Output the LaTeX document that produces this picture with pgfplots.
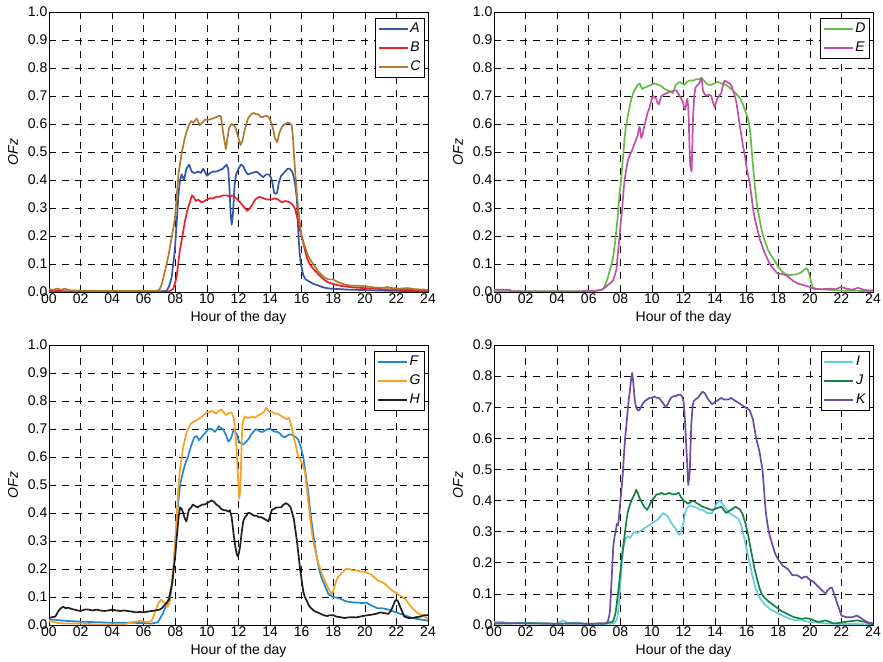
\documentclass[border=0pt]{standalone}
\usepackage{fontspec}
\setmainfont{Liberation Sans}
\usepackage{pgfplots}
\pgfplotsset{compat=1.18}

\definecolor{cA}{RGB}{50,85,168}
\definecolor{cB}{RGB}{236,32,40}
\definecolor{cC}{RGB}{176,122,44}
\definecolor{cD}{RGB}{100,190,70}
\definecolor{cE}{RGB}{192,80,168}
\definecolor{cF}{RGB}{36,135,205}
\definecolor{cG}{RGB}{248,160,32}
\definecolor{cH}{RGB}{30,30,30}
\definecolor{cI}{RGB}{100,205,222}
\definecolor{cJ}{RGB}{20,130,70}
\definecolor{cK}{RGB}{106,76,166}

\pgfplotsset{
  ofz/.style={
    scale only axis, width=379pt, height=280pt,
    xmin=0, xmax=24, ymin=0,
    xtick={0,2,...,24},
    xticklabels={00,02,04,06,08,10,12,14,16,18,20,22,24},
    yticklabel style={inner sep=1.5pt, /pgf/number format/.cd, fixed, fixed zerofill, precision=1, assume math mode=true},
    xticklabel style={inner sep=2pt},
    tick label style={font=\fontsize{14}{16}\selectfont},
    label style={font=\fontsize{14}{16}\selectfont},
    grid=major,
    major grid style={black, line width=0.6pt, dash pattern=on 7pt off 6pt},
    axis line style={black, line width=0.8pt},
    tick style={black, line width=0.6pt},
    tick align=inside, major tick length=5pt,
    xlabel={Hour of the day},
    ylabel={\textit{OFz}},
    xlabel style={at={(axis description cs:0.5,-0.093)}, anchor=center},
    ylabel style={at={(axis description cs:-0.095,0.5)}, anchor=center},
    every axis plot/.append style={line width=1.7pt, line join=round},
    legend cell align=left,
    legend image code/.code={\draw[##1] (0pt,0pt) -- (29pt,0pt);},
    legend style={at={(0.992,0.979)}, anchor=north east, draw=black, line width=1pt,
      font=\itshape\fontsize{14}{16}\selectfont, inner sep=2pt,
      nodes={inner sep=2pt, text height=10pt, text depth=3pt}, row sep=2pt},
  }
}

\begin{document}
\begin{tikzpicture}
% ---------------- panel 1 ----------------
\begin{axis}[ofz, at={(49pt,369pt)}, anchor=south west, ymax=1,
  ytick={0,0.1,0.2,0.3,0.4,0.5,0.6,0.7,0.8,0.9,1.0}]
\addplot[cA] coordinates {(0,0.003) (1,0.002) (3,0.002) (5,0.002) (7,0.002) (7.45,0.004) (7.6,0.02) (7.76,0.05) (7.97,0.15) (8.1,0.26) (8.2,0.35) (8.3,0.40) (8.4,0.42) (8.55,0.40) (8.7,0.44) (8.88,0.455) (9.03,0.43) (9.2,0.425) (9.45,0.43) (9.6,0.425) (9.77,0.44) (10.0,0.415) (10.2,0.425) (10.4,0.43) (10.6,0.43) (10.8,0.435) (11.0,0.44) (11.25,0.455) (11.35,0.44) (11.42,0.38) (11.5,0.28) (11.57,0.24) (11.65,0.28) (11.75,0.38) (11.85,0.42) (12.0,0.44) (12.15,0.455) (12.3,0.45) (12.45,0.43) (12.6,0.42) (12.85,0.425) (13.15,0.43) (13.35,0.42) (13.57,0.41) (13.75,0.42) (13.9,0.42) (14.05,0.41) (14.15,0.39) (14.25,0.355) (14.35,0.35) (14.45,0.355) (14.55,0.39) (14.7,0.415) (14.95,0.43) (15.1,0.44) (15.25,0.44) (15.4,0.43) (15.5,0.41) (15.6,0.38) (15.7,0.33) (15.75,0.26) (15.8,0.20) (15.87,0.14) (15.95,0.10) (16.1,0.06) (16.25,0.045) (16.4,0.04) (16.7,0.03) (16.95,0.025) (17.4,0.016) (17.8,0.012) (18.5,0.01) (19.1,0.008) (20,0.007) (21,0.005) (22,0.004) (24,0.003)};
\addlegendentry{A}
\addplot[cB] coordinates {(0,0.005) (0.6,0.004) (1.2,0.001) (3,0.001) (5,0.001) (7,0.001) (7.6,0.002) (7.86,0.01) (7.97,0.03) (8.07,0.05) (8.18,0.1) (8.29,0.15) (8.45,0.2) (8.6,0.25) (8.75,0.29) (8.92,0.32) (9.05,0.345) (9.15,0.34) (9.3,0.325) (9.45,0.33) (9.66,0.32) (9.85,0.325) (10.0,0.33) (10.2,0.335) (10.4,0.335) (10.6,0.34) (10.8,0.34) (11.0,0.345) (11.25,0.345) (11.45,0.34) (11.65,0.345) (11.85,0.335) (12.1,0.32) (12.25,0.31) (12.4,0.30) (12.55,0.29) (12.65,0.295) (12.85,0.31) (13.0,0.325) (13.15,0.335) (13.35,0.34) (13.57,0.335) (13.8,0.33) (14.1,0.33) (14.3,0.335) (14.5,0.33) (14.75,0.32) (14.95,0.325) (15.25,0.32) (15.45,0.31) (15.6,0.295) (15.7,0.27) (15.8,0.25) (15.9,0.22) (16.0,0.20) (16.1,0.175) (16.2,0.15) (16.35,0.12) (16.5,0.10) (16.7,0.085) (16.95,0.07) (17.2,0.055) (17.4,0.045) (17.65,0.035) (17.9,0.03) (18.2,0.026) (18.45,0.022) (19.3,0.016) (20.2,0.013) (21.2,0.01) (22.3,0.008) (24,0.005)};
\addlegendentry{B}
\addplot[cC] coordinates {(0,0.01) (0.3,0.008) (0.5,0.012) (0.8,0.008) (1.0,0.012) (1.3,0.006) (2,0.005) (3,0.004) (4,0.004) (5,0.004) (6,0.004) (6.8,0.004) (7.0,0.008) (7.15,0.03) (7.3,0.065) (7.45,0.10) (7.6,0.14) (7.75,0.19) (7.85,0.22) (7.97,0.26) (8.1,0.35) (8.2,0.42) (8.3,0.46) (8.45,0.51) (8.6,0.55) (8.75,0.58) (8.9,0.60) (9.0,0.61) (9.15,0.605) (9.35,0.62) (9.55,0.595) (9.7,0.605) (9.87,0.615) (10.1,0.615) (10.4,0.62) (10.6,0.625) (10.8,0.63) (10.9,0.625) (11.0,0.58) (11.08,0.55) (11.2,0.51) (11.3,0.55) (11.4,0.585) (11.55,0.60) (11.7,0.595) (11.8,0.59) (11.9,0.57) (12.0,0.55) (12.13,0.525) (12.25,0.54) (12.4,0.58) (12.5,0.60) (12.6,0.62) (12.8,0.635) (12.95,0.64) (13.1,0.635) (13.25,0.635) (13.4,0.625) (13.57,0.625) (13.75,0.63) (13.9,0.625) (14.0,0.615) (14.1,0.60) (14.2,0.58) (14.3,0.55) (14.45,0.535) (14.6,0.57) (14.75,0.59) (14.95,0.60) (15.15,0.605) (15.3,0.60) (15.37,0.595) (15.45,0.55) (15.5,0.50) (15.6,0.42) (15.7,0.35) (15.8,0.29) (15.9,0.24) (16.0,0.20) (16.1,0.18) (16.25,0.155) (16.4,0.13) (16.6,0.11) (16.85,0.09) (17.1,0.07) (17.3,0.06) (17.5,0.05) (17.7,0.045) (18.0,0.045) (18.15,0.04) (18.3,0.035) (18.55,0.03) (18.85,0.025) (19.3,0.022) (19.7,0.022) (20.1,0.02) (20.6,0.016) (21.2,0.015) (21.4,0.018) (21.7,0.014) (22.2,0.012) (22.7,0.014) (23.2,0.01) (24,0.008)};
\addlegendentry{C}
\end{axis}
% ---------------- panel 2 ----------------
\begin{axis}[ofz, at={(494pt,369pt)}, anchor=south west, ymax=1,
  ytick={0,0.1,0.2,0.3,0.4,0.5,0.6,0.7,0.8,0.9,1.0}]
\addplot[cD] coordinates {(0,0.003) (2,0.003) (4,0.003) (6,0.003) (6.48,0.004) (6.7,0.006) (6.9,0.01) (7.05,0.025) (7.2,0.05) (7.35,0.08) (7.53,0.12) (7.65,0.17) (7.75,0.22) (7.85,0.28) (7.95,0.35) (8.05,0.40) (8.12,0.45) (8.2,0.50) (8.27,0.55) (8.35,0.59) (8.48,0.63) (8.6,0.665) (8.7,0.69) (8.85,0.715) (9.0,0.73) (9.1,0.74) (9.22,0.745) (9.3,0.735) (9.39,0.725) (9.55,0.73) (9.75,0.735) (9.95,0.74) (10.17,0.745) (10.4,0.74) (10.6,0.735) (10.8,0.725) (11.02,0.72) (11.2,0.715) (11.33,0.71) (11.42,0.725) (11.5,0.74) (11.75,0.75) (11.9,0.745) (12.07,0.74) (12.2,0.75) (12.39,0.755) (12.6,0.755) (12.8,0.76) (13.0,0.76) (13.13,0.765) (13.3,0.755) (13.44,0.745) (13.6,0.74) (13.76,0.74) (13.95,0.745) (14.18,0.75) (14.4,0.745) (14.7,0.74) (14.9,0.73) (15.13,0.72) (15.3,0.71) (15.45,0.70) (15.6,0.69) (15.77,0.67) (15.95,0.64) (16.08,0.62) (16.15,0.60) (16.23,0.57) (16.3,0.52) (16.4,0.45) (16.5,0.39) (16.57,0.35) (16.68,0.30) (16.78,0.27) (16.9,0.235) (17.04,0.20) (17.2,0.175) (17.35,0.15) (17.5,0.135) (17.67,0.12) (17.85,0.105) (17.99,0.09) (18.15,0.08) (18.3,0.07) (18.5,0.063) (18.72,0.06) (19.0,0.062) (19.25,0.065) (19.45,0.07) (19.56,0.075) (19.7,0.082) (19.8,0.085) (19.9,0.075) (19.98,0.06) (20.08,0.035) (20.2,0.015) (20.4,0.012) (20.6,0.01) (21.2,0.008) (21.9,0.005) (23,0.004) (24,0.003)};
\addlegendentry{D}
\addplot[cE] coordinates {(0,0.008) (0.5,0.008) (1.0,0.008) (1.1,0.003) (2,0.002) (4,0.002) (5.5,0.002) (5.85,0.005) (6.2,0.004) (6.48,0.005) (6.7,0.007) (6.9,0.01) (7.05,0.017) (7.2,0.025) (7.35,0.03) (7.53,0.04) (7.65,0.06) (7.75,0.08) (7.85,0.14) (7.95,0.20) (8.03,0.25) (8.12,0.30) (8.2,0.36) (8.27,0.40) (8.38,0.44) (8.48,0.47) (8.6,0.49) (8.7,0.50) (8.8,0.515) (8.9,0.53) (9.0,0.545) (9.1,0.56) (9.15,0.575) (9.22,0.59) (9.28,0.57) (9.32,0.55) (9.4,0.56) (9.47,0.58) (9.55,0.60) (9.64,0.62) (9.72,0.64) (9.8,0.65) (9.88,0.665) (9.95,0.68) (10.02,0.695) (10.1,0.70) (10.18,0.695) (10.27,0.69) (10.35,0.675) (10.44,0.67) (10.52,0.685) (10.6,0.70) (10.75,0.705) (10.92,0.71) (11.1,0.715) (11.23,0.715) (11.4,0.72) (11.54,0.72) (11.65,0.71) (11.75,0.70) (11.85,0.69) (11.96,0.68) (12.03,0.66) (12.1,0.65) (12.17,0.67) (12.24,0.69) (12.3,0.66) (12.34,0.60) (12.38,0.52) (12.43,0.45) (12.51,0.43) (12.55,0.50) (12.6,0.62) (12.68,0.70) (12.76,0.73) (12.9,0.74) (13.0,0.745) (13.13,0.765) (13.18,0.75) (13.23,0.72) (13.3,0.71) (13.44,0.70) (13.6,0.705) (13.76,0.70) (13.85,0.68) (13.97,0.66) (14.05,0.675) (14.14,0.69) (14.25,0.70) (14.39,0.71) (14.5,0.74) (14.6,0.755) (14.75,0.75) (14.92,0.745) (15.05,0.735) (15.13,0.72) (15.25,0.70) (15.34,0.68) (15.45,0.64) (15.55,0.60) (15.66,0.56) (15.77,0.52) (15.88,0.49) (15.98,0.45) (16.08,0.42) (16.19,0.39) (16.3,0.345) (16.4,0.30) (16.5,0.265) (16.61,0.24) (16.72,0.215) (16.82,0.19) (16.98,0.165) (17.14,0.14) (17.3,0.12) (17.46,0.10) (17.67,0.085) (17.88,0.07) (18.05,0.065) (18.2,0.065) (18.35,0.062) (18.5,0.06) (18.72,0.05) (18.93,0.04) (19.1,0.035) (19.25,0.03) (19.5,0.026) (19.77,0.022) (20.0,0.018) (20.2,0.012) (20.5,0.01) (20.8,0.01) (21.2,0.012) (21.65,0.01) (21.85,0.015) (22.0,0.018) (22.15,0.015) (22.3,0.012) (22.7,0.008) (22.9,0.012) (23.05,0.015) (23.2,0.012) (23.4,0.008) (23.7,0.006) (24,0.005)};
\addlegendentry{E}
\end{axis}
% ---------------- panel 3 ----------------
\begin{axis}[ofz, at={(49pt,36pt)}, anchor=south west, ymax=1,
  ytick={0,0.1,0.2,0.3,0.4,0.5,0.6,0.7,0.8,0.9,1.0}]
\addplot[cF] coordinates {(0,0.02) (0.5,0.018) (1.0,0.015) (2,0.012) (3,0.01) (4,0.008) (5,0.008) (6,0.007) (6.5,0.005) (6.9,0.01) (7.05,0.025) (7.2,0.04) (7.35,0.06) (7.5,0.08) (7.65,0.11) (7.8,0.15) (7.9,0.22) (8.0,0.30) (8.07,0.36) (8.15,0.42) (8.3,0.50) (8.5,0.55) (8.65,0.58) (8.8,0.60) (9.0,0.64) (9.2,0.67) (9.35,0.675) (9.5,0.66) (9.65,0.67) (9.8,0.68) (9.95,0.69) (10.1,0.70) (10.3,0.70) (10.5,0.69) (10.65,0.70) (10.75,0.71) (10.85,0.705) (11.0,0.70) (11.1,0.69) (11.2,0.68) (11.35,0.655) (11.45,0.66) (11.55,0.67) (11.7,0.70) (11.8,0.69) (11.9,0.68) (12.0,0.66) (12.1,0.65) (12.3,0.645) (12.5,0.655) (12.65,0.665) (12.8,0.68) (12.95,0.69) (13.1,0.70) (13.25,0.695) (13.4,0.69) (13.55,0.69) (13.7,0.695) (13.85,0.70) (14.0,0.70) (14.15,0.695) (14.3,0.69) (14.45,0.69) (14.6,0.685) (14.75,0.675) (14.9,0.67) (15.05,0.675) (15.2,0.68) (15.35,0.68) (15.5,0.675) (15.65,0.67) (15.8,0.66) (15.95,0.635) (16.1,0.60) (16.25,0.54) (16.4,0.48) (16.5,0.43) (16.6,0.38) (16.72,0.33) (16.85,0.28) (16.97,0.24) (17.1,0.20) (17.25,0.17) (17.4,0.15) (17.55,0.13) (17.7,0.11) (17.85,0.105) (18.0,0.10) (18.2,0.098) (18.4,0.095) (18.6,0.09) (18.8,0.085) (19.05,0.082) (19.3,0.08) (19.55,0.08) (19.8,0.078) (20.1,0.08) (20.25,0.075) (20.4,0.07) (20.6,0.065) (20.8,0.06) (21.1,0.06) (21.5,0.055) (21.75,0.05) (22.0,0.045) (22.25,0.04) (22.5,0.035) (22.75,0.03) (23.0,0.025) (23.25,0.022) (23.5,0.02) (23.75,0.018) (24,0.015)};
\addlegendentry{F}
\addplot[cG] coordinates {(0,0.015) (0.5,0.008) (1,0.005) (2,0.005) (3,0.002) (4,0.002) (4.8,0.002) (5.2,0.01) (5.8,0.015) (6.2,0.01) (6.5,0.015) (6.65,0.035) (6.8,0.06) (6.95,0.08) (7.1,0.09) (7.2,0.085) (7.3,0.08) (7.4,0.07) (7.5,0.065) (7.58,0.075) (7.65,0.085) (7.72,0.11) (7.8,0.15) (7.9,0.22) (8.0,0.30) (8.1,0.40) (8.2,0.50) (8.3,0.56) (8.4,0.60) (8.5,0.635) (8.6,0.66) (8.7,0.685) (8.8,0.70) (8.9,0.71) (9.0,0.72) (9.15,0.725) (9.3,0.73) (9.45,0.735) (9.6,0.74) (9.8,0.75) (10.0,0.76) (10.15,0.76) (10.3,0.765) (10.45,0.76) (10.6,0.755) (10.75,0.765) (10.9,0.77) (11.05,0.76) (11.2,0.75) (11.35,0.755) (11.5,0.76) (11.6,0.755) (11.7,0.74) (11.78,0.70) (11.85,0.65) (11.95,0.55) (12.0,0.50) (12.05,0.45) (12.1,0.48) (12.15,0.55) (12.2,0.65) (12.25,0.72) (12.4,0.745) (12.55,0.74) (12.7,0.74) (12.85,0.745) (13.0,0.74) (13.15,0.745) (13.3,0.75) (13.45,0.755) (13.6,0.76) (13.75,0.775) (13.9,0.765) (14.0,0.76) (14.15,0.76) (14.3,0.755) (14.45,0.755) (14.6,0.75) (14.75,0.745) (14.9,0.74) (15.05,0.735) (15.2,0.74) (15.3,0.72) (15.4,0.70) (15.5,0.67) (15.6,0.65) (15.7,0.62) (15.8,0.60) (15.9,0.59) (16.0,0.58) (16.1,0.565) (16.2,0.55) (16.3,0.50) (16.4,0.45) (16.5,0.40) (16.6,0.35) (16.7,0.31) (16.8,0.28) (16.9,0.255) (17.0,0.23) (17.15,0.205) (17.3,0.18) (17.45,0.16) (17.6,0.14) (17.75,0.125) (17.9,0.11) (18.0,0.12) (18.1,0.14) (18.2,0.16) (18.3,0.17) (18.45,0.18) (18.6,0.19) (18.8,0.20) (19.0,0.20) (19.25,0.195) (19.5,0.195) (19.75,0.19) (20.0,0.19) (20.2,0.185) (20.4,0.18) (20.6,0.17) (20.8,0.16) (21.0,0.155) (21.2,0.15) (21.4,0.14) (21.6,0.13) (21.8,0.12) (22.0,0.115) (22.2,0.105) (22.4,0.10) (22.6,0.09) (22.8,0.075) (23.0,0.06) (23.2,0.05) (23.4,0.04) (23.6,0.035) (23.8,0.03) (24,0.02)};
\addlegendentry{G}
\addplot[cH] coordinates {(0,0.025) (0.2,0.028) (0.4,0.03) (0.6,0.05) (0.75,0.06) (0.9,0.065) (1.05,0.06) (1.2,0.062) (1.4,0.058) (1.6,0.055) (1.8,0.052) (2.0,0.05) (2.25,0.055) (2.5,0.055) (2.75,0.052) (3.0,0.055) (3.25,0.052) (3.5,0.05) (3.75,0.052) (4.0,0.055) (4.25,0.052) (4.5,0.05) (4.75,0.052) (5.0,0.05) (5.25,0.048) (5.5,0.045) (5.75,0.047) (6.0,0.045) (6.25,0.048) (6.5,0.05) (6.75,0.052) (7.0,0.055) (7.15,0.06) (7.3,0.07) (7.45,0.08) (7.6,0.09) (7.7,0.12) (7.8,0.15) (7.9,0.20) (8.0,0.25) (8.07,0.30) (8.15,0.35) (8.22,0.39) (8.3,0.42) (8.4,0.415) (8.5,0.40) (8.6,0.38) (8.7,0.37) (8.78,0.39) (8.85,0.41) (9.0,0.42) (9.1,0.43) (9.25,0.425) (9.4,0.42) (9.55,0.425) (9.7,0.43) (9.85,0.43) (10.0,0.435) (10.15,0.44) (10.3,0.445) (10.45,0.44) (10.6,0.43) (10.75,0.425) (10.9,0.415) (11.05,0.41) (11.2,0.41) (11.35,0.405) (11.45,0.41) (11.55,0.39) (11.6,0.37) (11.7,0.32) (11.8,0.28) (11.88,0.255) (11.95,0.245) (12.02,0.255) (12.1,0.28) (12.2,0.33) (12.3,0.37) (12.4,0.385) (12.5,0.39) (12.6,0.40) (12.7,0.40) (12.85,0.395) (13.0,0.39) (13.15,0.39) (13.3,0.385) (13.45,0.385) (13.6,0.38) (13.75,0.375) (13.9,0.37) (14.0,0.39) (14.1,0.41) (14.25,0.415) (14.4,0.42) (14.55,0.42) (14.7,0.42) (14.85,0.43) (15.0,0.435) (15.15,0.43) (15.3,0.42) (15.4,0.40) (15.5,0.38) (15.6,0.34) (15.7,0.30) (15.8,0.25) (15.9,0.20) (16.0,0.16) (16.1,0.12) (16.2,0.10) (16.3,0.09) (16.45,0.07) (16.6,0.06) (16.8,0.05) (17.0,0.045) (17.2,0.04) (17.4,0.035) (17.6,0.032) (17.8,0.035) (18.0,0.035) (18.2,0.03) (18.45,0.028) (18.7,0.025) (18.95,0.027) (19.2,0.028) (19.45,0.027) (19.7,0.03) (19.95,0.033) (20.2,0.035) (20.45,0.037) (20.7,0.04) (21.0,0.045) (21.25,0.042) (21.5,0.04) (21.65,0.05) (21.8,0.07) (21.9,0.085) (22.0,0.09) (22.1,0.085) (22.2,0.07) (22.35,0.05) (22.5,0.03) (22.75,0.025) (23.0,0.025) (23.25,0.028) (23.5,0.03) (23.75,0.035) (24,0.035)};
\addlegendentry{H}
\end{axis}
% ---------------- panel 4 ----------------
\begin{axis}[ofz, at={(494pt,36pt)}, anchor=south west, ymax=0.9,
  ytick={0,0.1,0.2,0.3,0.4,0.5,0.6,0.7,0.8,0.9}]
\addplot[cI] coordinates {(0,0.01) (0.5,0.01) (1,0.005) (1.5,0.006) (2,0.008) (2.5,0.006) (3,0.005) (3.5,0.004) (4,0.003) (4.2,0.01) (4.4,0.015) (4.55,0.01) (4.7,0.005) (5.0,0.007) (5.2,0.008) (5.6,0.005) (6.0,0.003) (7.0,0.003) (7.6,0.005) (7.8,0.02) (7.88,0.05) (7.95,0.10) (8.03,0.15) (8.1,0.20) (8.2,0.25) (8.35,0.28) (8.5,0.285) (8.6,0.28) (8.75,0.29) (8.9,0.30) (9.05,0.295) (9.2,0.30) (9.35,0.305) (9.5,0.31) (9.65,0.315) (9.8,0.32) (9.95,0.325) (10.1,0.33) (10.25,0.335) (10.4,0.34) (10.55,0.35) (10.7,0.36) (10.85,0.355) (11.0,0.35) (11.1,0.34) (11.2,0.33) (11.35,0.32) (11.5,0.31) (11.6,0.30) (11.7,0.29) (11.8,0.295) (11.9,0.31) (12.0,0.33) (12.1,0.36) (12.2,0.375) (12.3,0.38) (12.45,0.385) (12.6,0.38) (12.75,0.38) (12.9,0.375) (13.05,0.37) (13.2,0.37) (13.35,0.365) (13.5,0.36) (13.65,0.36) (13.8,0.36) (13.95,0.375) (14.1,0.39) (14.2,0.395) (14.3,0.40) (14.45,0.39) (14.6,0.38) (14.75,0.37) (14.9,0.36) (15.05,0.355) (15.2,0.35) (15.35,0.345) (15.5,0.34) (15.65,0.32) (15.8,0.29) (15.95,0.255) (16.1,0.22) (16.25,0.185) (16.4,0.15) (16.55,0.12) (16.7,0.10) (16.85,0.085) (17.0,0.075) (17.15,0.065) (17.3,0.06) (17.5,0.05) (17.7,0.045) (17.9,0.04) (18.1,0.035) (18.3,0.03) (18.5,0.025) (18.75,0.02) (19.0,0.015) (19.25,0.015) (19.5,0.015) (19.75,0.012) (20.0,0.01) (20.5,0.008) (21,0.005) (21.5,0.004) (22,0.003) (23,0.003) (24,0.002)};
\addlegendentry{I}
\addplot[cJ] coordinates {(0,0.005) (1,0.005) (2,0.006) (3,0.005) (4,0.004) (5,0.005) (6,0.004) (7,0.005) (7.5,0.01) (7.6,0.02) (7.7,0.04) (7.8,0.08) (7.9,0.12) (8.0,0.17) (8.1,0.22) (8.2,0.26) (8.3,0.30) (8.4,0.34) (8.5,0.37) (8.6,0.385) (8.7,0.40) (8.8,0.41) (8.9,0.42) (9.0,0.435) (9.1,0.425) (9.2,0.41) (9.35,0.395) (9.5,0.38) (9.6,0.375) (9.7,0.37) (9.85,0.385) (10.0,0.40) (10.15,0.41) (10.3,0.42) (10.45,0.42) (10.6,0.425) (10.75,0.42) (10.9,0.42) (11.1,0.425) (11.3,0.42) (11.5,0.42) (11.7,0.425) (11.85,0.41) (12.0,0.40) (12.15,0.395) (12.3,0.39) (12.45,0.395) (12.6,0.40) (12.75,0.395) (12.9,0.39) (13.05,0.385) (13.2,0.38) (13.35,0.378) (13.5,0.375) (13.65,0.372) (13.8,0.37) (13.95,0.372) (14.1,0.375) (14.25,0.378) (14.4,0.38) (14.55,0.37) (14.7,0.36) (14.85,0.365) (15.0,0.37) (15.15,0.375) (15.3,0.38) (15.45,0.375) (15.6,0.37) (15.75,0.355) (15.9,0.33) (16.05,0.30) (16.2,0.26) (16.35,0.22) (16.5,0.18) (16.65,0.15) (16.8,0.12) (16.95,0.10) (17.1,0.09) (17.25,0.082) (17.4,0.075) (17.6,0.068) (17.8,0.06) (18.0,0.052) (18.2,0.045) (18.4,0.04) (18.6,0.035) (18.8,0.03) (19.0,0.025) (19.25,0.022) (19.5,0.02) (19.75,0.022) (20.0,0.02) (20.25,0.015) (20.5,0.01) (20.75,0.012) (21.0,0.015) (21.25,0.01) (21.5,0.005) (21.75,0.006) (22.0,0.008) (22.25,0.01) (22.5,0.012) (22.75,0.013) (23.0,0.015) (23.25,0.012) (23.5,0.01) (23.75,0.005) (24,0.002)};
\addlegendentry{J}
\addplot[cK] coordinates {(0,0.005) (1,0.006) (2,0.005) (3,0.005) (4,0.004) (5,0.005) (6,0.004) (7,0.005) (7.2,0.01) (7.3,0.03) (7.35,0.05) (7.4,0.10) (7.45,0.15) (7.5,0.20) (7.55,0.25) (7.62,0.28) (7.7,0.30) (7.78,0.325) (7.85,0.32) (7.92,0.35) (8.0,0.40) (8.08,0.44) (8.15,0.48) (8.22,0.54) (8.3,0.60) (8.38,0.64) (8.45,0.68) (8.52,0.72) (8.6,0.75) (8.68,0.79) (8.75,0.81) (8.8,0.79) (8.85,0.76) (8.92,0.72) (9.0,0.70) (9.1,0.69) (9.2,0.69) (9.3,0.70) (9.4,0.71) (9.55,0.72) (9.7,0.725) (9.85,0.73) (10.0,0.73) (10.15,0.735) (10.3,0.73) (10.45,0.73) (10.6,0.72) (10.75,0.71) (10.9,0.70) (11.05,0.715) (11.2,0.73) (11.35,0.735) (11.5,0.735) (11.65,0.74) (11.8,0.74) (11.9,0.735) (12.0,0.72) (12.05,0.69) (12.1,0.65) (12.15,0.60) (12.2,0.55) (12.25,0.50) (12.3,0.45) (12.35,0.47) (12.4,0.50) (12.45,0.58) (12.5,0.65) (12.57,0.70) (12.65,0.72) (12.75,0.725) (12.9,0.73) (13.05,0.74) (13.2,0.75) (13.35,0.745) (13.5,0.73) (13.65,0.72) (13.8,0.71) (13.95,0.715) (14.1,0.72) (14.25,0.725) (14.4,0.73) (14.55,0.725) (14.7,0.725) (14.85,0.725) (15.0,0.73) (15.15,0.725) (15.3,0.72) (15.45,0.715) (15.6,0.71) (15.75,0.705) (15.9,0.70) (16.05,0.695) (16.2,0.69) (16.3,0.675) (16.4,0.66) (16.5,0.63) (16.6,0.60) (16.7,0.58) (16.8,0.56) (16.9,0.53) (17.0,0.50) (17.08,0.45) (17.15,0.40) (17.22,0.36) (17.3,0.33) (17.4,0.30) (17.5,0.28) (17.65,0.255) (17.8,0.23) (17.9,0.22) (18.0,0.21) (18.15,0.20) (18.3,0.19) (18.45,0.185) (18.6,0.18) (18.75,0.17) (18.9,0.16) (19.05,0.16) (19.2,0.16) (19.35,0.155) (19.5,0.15) (19.65,0.155) (19.8,0.155) (20.0,0.145) (20.2,0.14) (20.4,0.13) (20.6,0.12) (20.8,0.11) (21.0,0.10) (21.1,0.11) (21.2,0.115) (21.3,0.12) (21.4,0.12) (21.5,0.105) (21.6,0.09) (21.7,0.075) (21.8,0.06) (21.9,0.045) (22.0,0.03) (22.15,0.028) (22.3,0.025) (22.5,0.025) (22.7,0.025) (22.85,0.028) (23.0,0.03) (23.15,0.025) (23.3,0.02) (23.45,0.015) (23.6,0.01) (23.8,0.007) (24,0.005)};
\addlegendentry{K}
\end{axis}
\pgfresetboundingbox
\path[use as bounding box] (0pt,0pt) rectangle (883pt,661pt);
\end{tikzpicture}
\end{document}
